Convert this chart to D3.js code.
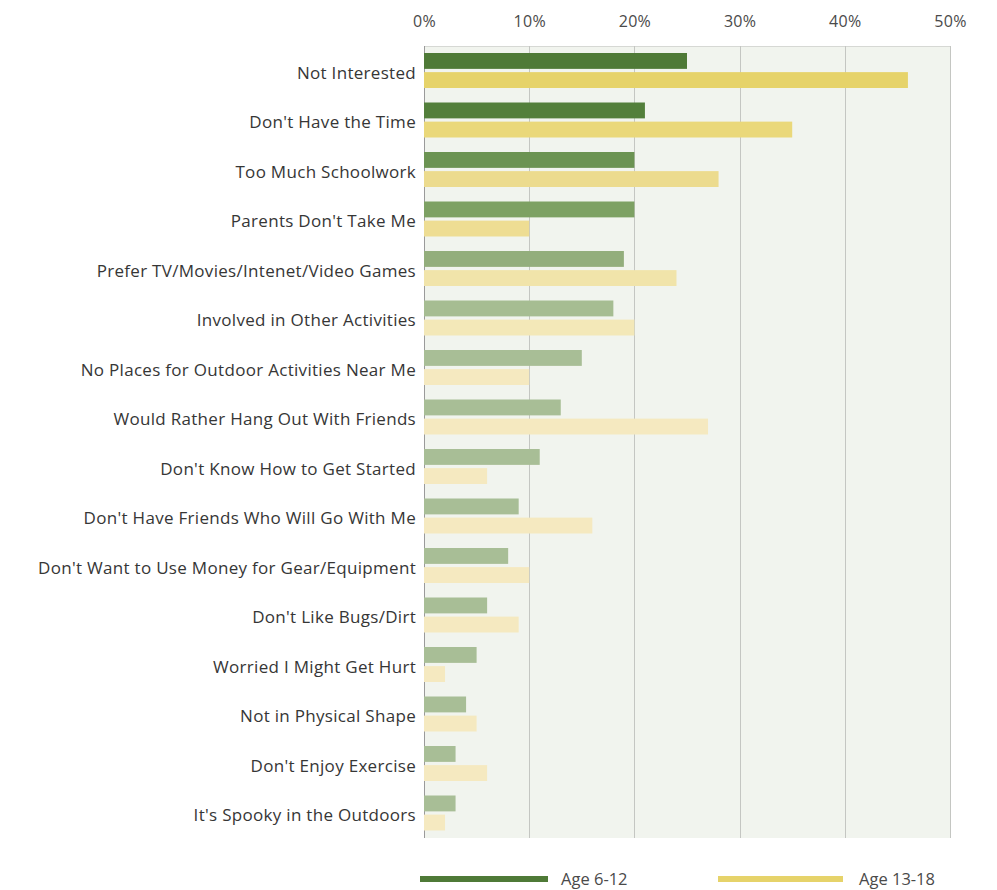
<!DOCTYPE html>
<html>
<head>
<meta charset="utf-8">
<script src="https://cdn.jsdelivr.net/npm/d3@7"></script>
<style>
  html, body { margin: 0; padding: 0; background: #ffffff; }
  svg { display: block; }
  text { font-family: "Open Sans", Lato, sans-serif; }
</style>
</head>
<body>
<svg id="chart" width="997" height="890"></svg>
<script>
// Reasons for not participating in outdoor activities, by age group (percent)
const categories = [
  "Not Interested",
  "Don't Have the Time",
  "Too Much Schoolwork",
  "Parents Don't Take Me",
  "Prefer TV/Movies/Intenet/Video Games",
  "Involved in Other Activities",
  "No Places for Outdoor Activities Near Me",
  "Would Rather Hang Out With Friends",
  "Don't Know How to Get Started",
  "Don't Have Friends Who Will Go With Me",
  "Don't Want to Use Money for Gear/Equipment",
  "Don't Like Bugs/Dirt",
  "Worried I Might Get Hurt",
  "Not in Physical Shape",
  "Don't Enjoy Exercise",
  "It's Spooky in the Outdoors"
];
const age6to12 = [25, 21, 20, 20, 19, 18, 15, 13, 11, 9, 8, 6, 5, 4, 3, 3];
const age13to18 = [46, 35, 28, 10, 24, 20, 10, 27, 6, 16, 10, 9, 2, 5, 6, 2];
const seriesNames = ["Age 6-12", "Age 13-18"];
const tickValues = [0, 10, 20, 30, 40, 50];

// Bar shades fade from the top rows downward
const greenShades = ["#4f7a37", "#537f3b", "#6b9352", "#7da163", "#93ae7c", "#a6bd92", "#a8be96"];
const yellowShades = ["#e6d36a", "#ead87a", "#ecdb8e", "#eedd93", "#f1e4aa", "#f3e8b8", "#f5e9c0"];
const legendColors = ["#4f7a37", "#e6d36a"];
const shade = (arr, i) => arr[Math.min(i, arr.length - 1)];

const svg = d3.select("#chart");
const margin = { left: 424, right: 47, top: 46, bottom: 52 };
const W = 997, H = 890;

const x = d3.scaleLinear().domain([0, 50]).range([margin.left, W - margin.right]);
const y = d3.scaleBand().domain(categories).range([margin.top, H - margin.bottom]).paddingInner(0).paddingOuter(0);
const sub = d3.scaleBand().domain(seriesNames).range([7, y.bandwidth() - 7.5]).paddingInner(0.17);

// plot background
svg.append("rect")
  .attr("x", x(0)).attr("y", margin.top)
  .attr("width", x(50) - x(0)).attr("height", y.range()[1] - margin.top)
  .attr("fill", "#f1f4ee");
svg.append("line")
  .attr("x1", x(0)).attr("x2", x(50))
  .attr("y1", margin.top + 0.5).attr("y2", margin.top + 0.5)
  .attr("stroke", "#d6d8d4").attr("stroke-width", 1);

// top axis with full-height grid lines
const axis = d3.axisTop(x).tickValues(tickValues).tickFormat(d => d + "%")
  .tickSize(0).tickPadding(19);
const gAxis = svg.append("g").attr("transform", `translate(0,${margin.top})`).call(axis);
gAxis.select(".domain").remove();
gAxis.selectAll("text")
  .attr("font-size", 16).attr("fill", "#4a4a4a")
  .attr("letter-spacing", 0.3)
  .attr("font-family", "'Open Sans', Lato, sans-serif");

svg.append("g").selectAll("line").data(tickValues).join("line")
  .attr("x1", d => Math.round(x(d)) + 0.5).attr("x2", d => Math.round(x(d)) + 0.5)
  .attr("y1", margin.top).attr("y2", y.range()[1])
  .attr("stroke", d => d === 0 ? "#9a9a9a" : "#c4c6c2").attr("stroke-width", 1);

// bars
const rows = svg.append("g").selectAll("g").data(categories).join("g")
  .attr("transform", d => `translate(0,${y(d)})`);

rows.append("rect")
  .attr("x", x(0))
  .attr("y", sub(seriesNames[0]))
  .attr("height", sub.bandwidth())
  .attr("width", (d, i) => x(age6to12[i]) - x(0))
  .attr("fill", (d, i) => shade(greenShades, i));

rows.append("rect")
  .attr("x", x(0))
  .attr("y", sub(seriesNames[1]))
  .attr("height", sub.bandwidth())
  .attr("width", (d, i) => x(age13to18[i]) - x(0))
  .attr("fill", (d, i) => shade(yellowShades, i));

// category labels
rows.append("text")
  .attr("x", x(0) - 8)
  .attr("y", y.bandwidth() / 2 + 2)
  .attr("dy", "0.35em")
  .attr("text-anchor", "end")
  .attr("font-size", 17)
  .attr("letter-spacing", 0.3)
  .attr("fill", "#363636")
  .text(d => d);

// legend
const legendX = [420, 718];
const legend = svg.append("g").selectAll("g").data(seriesNames).join("g")
  .attr("transform", (d, i) => `translate(${legendX[i]},879)`);
legend.append("line")
  .attr("x1", 0).attr("x2", (d, i) => i === 0 ? 128 : 125)
  .attr("y1", 0).attr("y2", 0)
  .attr("stroke", (d, i) => legendColors[i]).attr("stroke-width", 6);
legend.append("text")
  .attr("x", 141)
  .attr("y", 0).attr("dy", "0.35em")
  .attr("font-size", 16.5).attr("fill", "#4a4a4a")
  .text(d => d);
</script>
</body>
</html>
